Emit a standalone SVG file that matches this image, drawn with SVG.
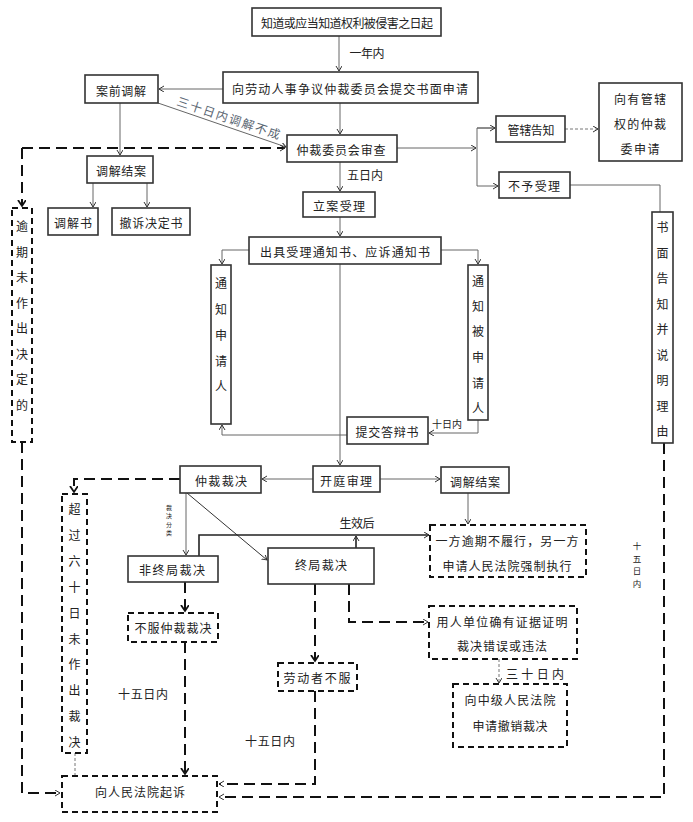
<svg xmlns="http://www.w3.org/2000/svg" width="693" height="822" viewBox="0 0 693 822">
<defs>
<style>
text{font-family:"Noto Sans CJK SC","Noto Sans",sans-serif;font-size:12px;fill:#222;dominant-baseline:central;text-anchor:middle}
.box{fill:#fff;stroke:#333;stroke-width:1.6}
.dbox{fill:#fff;stroke:#111;stroke-width:2;stroke-dasharray:6,4}
.ln{fill:none;stroke:#666;stroke-width:1}
.lnd{fill:none;stroke:#222;stroke-width:1.6}
.thin-d{fill:none;stroke:#777;stroke-width:1;stroke-dasharray:3,2}
.dash{fill:none;stroke:#111;stroke-width:2;stroke-dasharray:11,6}
.sm{font-size:10px}
.vs{font-size:8.5px}
.xs{font-size:6px}
</style>
<marker id="a" markerWidth="8" markerHeight="8" refX="5" refY="3" orient="auto" markerUnits="userSpaceOnUse"><path d="M0,0 L5,3 L0,6" fill="none" stroke="#333" stroke-width="1"/></marker>
<marker id="b" markerWidth="10" markerHeight="10" refX="6" refY="4" orient="auto" markerUnits="userSpaceOnUse"><path d="M0,0 L6,4 L0,8" fill="none" stroke="#111" stroke-width="1.8"/></marker>
</defs>
<g id="connectors">
<path class="ln" d="M339,36 V71" marker-end="url(#a)"/>
<path class="ln" d="M223,89 H159" marker-end="url(#a)"/>
<path class="ln" d="M340,103 V134" marker-end="url(#a)"/>
<path class="ln" d="M120,103 V155" marker-end="url(#a)"/>
<path class="ln" d="M93,183 V207" marker-end="url(#a)"/>
<path class="ln" d="M147,183 V207" marker-end="url(#a)"/>
<path class="ln" d="M158,103 L286,147" marker-end="url(#a)"/>
<path class="ln" d="M397,148 H476" marker-end="url(#a)"/>
<path class="ln" d="M495,128 H477 V186 H498" marker-end="url(#a)"/>
<path class="ln" d="M477,128 H495" marker-end="url(#a)"/>
<path class="thin-d" d="M565,129 H598" marker-end="url(#a)"/>
<path class="ln" d="M570,185 H660 V212"/>
<path class="ln" d="M340,162 V191" marker-end="url(#a)"/>
<path class="ln" d="M340,217 V236" marker-end="url(#a)"/>
<path class="ln" d="M249,250 H222 V264" marker-end="url(#a)"/>
<path class="ln" d="M441,250 H478 V264" marker-end="url(#a)"/>
<path class="ln" d="M478,420 V433 H429" marker-end="url(#a)"/>
<path class="ln" d="M347,435 H222 V425" marker-end="url(#a)"/>
<path class="ln" d="M340,264 V465" marker-end="url(#a)"/>
<path class="ln" d="M313,479 H262" marker-end="url(#a)"/>
<path class="ln" d="M380,479 H440" marker-end="url(#a)"/>
<path class="ln" d="M468,493 V524" marker-end="url(#a)"/>
<path class="ln" d="M186,493 V555" marker-end="url(#a)"/>
<path class="ln" style="stroke:#333" d="M187,493 L267,560" marker-end="url(#a)"/>
<path class="lnd" d="M199,556 V535 H429" marker-end="url(#a)"/>
<path class="lnd" d="M356,548 V536" marker-end="url(#a)"/>
<path class="thin-d" d="M499,659 V683" marker-end="url(#a)"/>
<path class="thin-d" d="M75,753 V776"/>
<path class="dash" d="M22,148 H285" marker-end="url(#a)"/>
<path class="dash" d="M22,148 V206" marker-end="url(#b)"/>
<path class="dash" d="M22,442 V793 H60" marker-end="url(#a)"/>
<path class="dash" d="M180,479 H74 V492" marker-end="url(#b)"/>
<path class="dash" d="M185,582 V611" marker-end="url(#b)"/>
<path class="dash" d="M185,642 V774" marker-end="url(#b)"/>
<path class="dash" d="M315,584 V661" marker-end="url(#b)"/>
<path class="dash" d="M349,584 V622 H428" marker-end="url(#a)"/>
<path class="dash" d="M315,691 V784 H219" marker-end="url(#a)"/>
<path class="dash" d="M664,443 V797 H219" marker-end="url(#a)"/>
</g>
<g id="labels">
<text x="367" y="52" textLength="35" lengthAdjust="spacing">一年内</text>
<text transform="translate(229,117) rotate(18.5)" textLength="108" lengthAdjust="spacing" style="fill:#5a6672">三十日内调解不成</text>
<text x="365" y="174" textLength="36" lengthAdjust="spacing">五日内</text>
<text class="sm" x="447" y="423" textLength="30" lengthAdjust="spacing">十日内</text>
<text x="357" y="522" textLength="35" lengthAdjust="spacing">生效后</text>
<text x="535" y="673" textLength="58" lengthAdjust="spacing">三十日内</text>
<text x="143" y="693" textLength="50" lengthAdjust="spacing">十五日内</text>
<text x="270" y="740" textLength="50" lengthAdjust="spacing">十五日内</text>
<text class="vs"><tspan x="637" y="545">十</tspan><tspan x="637" y="557.5">五</tspan><tspan x="637" y="570">日</tspan><tspan x="637" y="582.5">内</tspan></text>
<text class="xs"><tspan x="169" y="507">裁</tspan><tspan x="169" y="515">决</tspan><tspan x="169" y="523.5">分</tspan><tspan x="169" y="532">类</tspan></text>
</g>
<g id="n1"><rect class="box" x="252" y="8" width="189" height="28"/><text x="347" y="22" textLength="172" lengthAdjust="spacing">知道或应当知道权利被侵害之日起</text></g>
<g id="n2"><rect class="box" x="223" y="72" width="255" height="31"/><text x="350" y="88" textLength="236" lengthAdjust="spacing">向劳动人事争议仲裁委员会提交书面申请</text></g>
<g id="n3"><rect class="box" x="85" y="75" width="73" height="28"/><text x="121" y="90" textLength="50" lengthAdjust="spacing">案前调解</text></g>
<g id="n4"><rect class="box" x="87" y="156" width="66" height="27"/><text x="121" y="170" textLength="50" lengthAdjust="spacing">调解结案</text></g>
<g id="n5"><rect class="box" x="48" y="208" width="50" height="27"/><text x="73" y="222" textLength="38" lengthAdjust="spacing">调解书</text></g>
<g id="n6"><rect class="box" x="112" y="208" width="78" height="27"/><text x="151" y="222" textLength="63" lengthAdjust="spacing">撤诉决定书</text></g>
<g id="n7"><rect class="box" x="287" y="135" width="110" height="27"/><text x="341" y="149" textLength="89" lengthAdjust="spacing">仲裁委员会审查</text></g>
<g id="n8"><rect class="box" x="496" y="116" width="69" height="26"/><text x="531" y="129" textLength="47" lengthAdjust="spacing">管辖告知</text></g>
<g id="n9"><rect class="box" x="499" y="172" width="71" height="26"/><text x="534" y="185" textLength="52" lengthAdjust="spacing">不予受理</text></g>
<g id="n10"><rect class="box" x="599" y="83" width="83" height="78"/><text x="640" y="98" textLength="52" lengthAdjust="spacing">向有管辖</text><text x="640" y="123" textLength="52" lengthAdjust="spacing">权的仲裁</text><text x="640" y="148" textLength="39" lengthAdjust="spacing">委申请</text></g>
<g id="n11"><rect class="box" x="303" y="192" width="72" height="25"/><text x="339" y="205" textLength="52" lengthAdjust="spacing">立案受理</text></g>
<g id="n12"><rect class="box" x="249" y="237" width="192" height="27"/><text x="345" y="251" textLength="170" lengthAdjust="spacing">出具受理通知书、应诉通知书</text></g>
<g id="n13"><rect class="box" x="211" y="265" width="20" height="159"/><text><tspan x="221" y="282">通</tspan><tspan x="221" y="308">知</tspan><tspan x="221" y="334">申</tspan><tspan x="221" y="360">请</tspan><tspan x="221" y="385">人</tspan></text></g>
<g id="n14"><rect class="box" x="468" y="265" width="20" height="155"/><text><tspan x="478" y="280">通</tspan><tspan x="478" y="305">知</tspan><tspan x="478" y="330">被</tspan><tspan x="478" y="356">申</tspan><tspan x="478" y="382">请</tspan><tspan x="478" y="407">人</tspan></text></g>
<g id="n15"><rect class="box" x="652" y="212" width="21" height="231"/><text><tspan x="662.5" y="226">书</tspan><tspan x="662.5" y="251.5">面</tspan><tspan x="662.5" y="277">告</tspan><tspan x="662.5" y="302.5">知</tspan><tspan x="662.5" y="328">并</tspan><tspan x="662.5" y="353.5">说</tspan><tspan x="662.5" y="379">明</tspan><tspan x="662.5" y="404.5">理</tspan><tspan x="662.5" y="430">由</tspan></text></g>
<g id="n16"><rect class="dbox" x="12" y="208" width="20" height="234"/><text><tspan x="22" y="225">逾</tspan><tspan x="22" y="251">期</tspan><tspan x="22" y="276">未</tspan><tspan x="22" y="302">作</tspan><tspan x="22" y="327">出</tspan><tspan x="22" y="353">决</tspan><tspan x="22" y="378">定</tspan><tspan x="22" y="404">的</tspan></text></g>
<g id="n17"><rect class="box" x="347" y="417" width="81" height="27"/><text x="387" y="431" textLength="63" lengthAdjust="spacing">提交答辩书</text></g>
<g id="n18"><rect class="box" x="313" y="466" width="67" height="26"/><text x="346" y="480" textLength="52" lengthAdjust="spacing">开庭审理</text></g>
<g id="n19"><rect class="box" x="180" y="466" width="81" height="27"/><text x="221" y="480" textLength="52" lengthAdjust="spacing">仲裁裁决</text></g>
<g id="n20"><rect class="box" x="441" y="467" width="68" height="26"/><text x="475" y="481" textLength="50" lengthAdjust="spacing">调解结案</text></g>
<g id="n21"><rect class="dbox" x="430" y="525" width="156" height="52"/><text x="507" y="540" textLength="143" lengthAdjust="spacing">一方逾期不履行，另一方</text><text x="507" y="565" textLength="129" lengthAdjust="spacing">申请人民法院强制执行</text></g>
<g id="n22"><rect class="dbox" x="62" y="494" width="25" height="259"/><text><tspan x="74.5" y="508">超</tspan><tspan x="74.5" y="534">过</tspan><tspan x="74.5" y="560">六</tspan><tspan x="74.5" y="586">十</tspan><tspan x="74.5" y="612">日</tspan><tspan x="74.5" y="638">未</tspan><tspan x="74.5" y="663">作</tspan><tspan x="74.5" y="689">出</tspan><tspan x="74.5" y="715">裁</tspan><tspan x="74.5" y="741">决</tspan></text></g>
<g id="n23"><rect class="box" x="128" y="556" width="90" height="26"/><text x="172" y="569" textLength="66" lengthAdjust="spacing">非终局裁决</text></g>
<g id="n24"><rect class="box" x="268" y="548" width="106" height="36"/><text x="321" y="564" textLength="52" lengthAdjust="spacing">终局裁决</text></g>
<g id="n25"><rect class="dbox" x="128" y="613" width="90" height="29"/><text x="173" y="627" textLength="77" lengthAdjust="spacing">不服仲裁裁决</text></g>
<g id="n26"><rect class="dbox" x="429" y="606" width="148" height="53"/><text x="502" y="621" textLength="131" lengthAdjust="spacing">用人单位确有证据证明</text><text x="502" y="645" textLength="90" lengthAdjust="spacing">裁决错误或违法</text></g>
<g id="n27"><rect class="dbox" x="278" y="663" width="79" height="28"/><text x="317" y="677" textLength="67" lengthAdjust="spacing">劳动者不服</text></g>
<g id="n28"><rect class="dbox" x="453" y="684" width="114" height="63"/><text x="510" y="699" textLength="91" lengthAdjust="spacing">向中级人民法院</text><text x="510" y="725" textLength="75" lengthAdjust="spacing">申请撤销裁决</text></g>
<g id="n29"><rect class="dbox" x="62" y="776" width="155" height="36"/><text x="140" y="791" textLength="90" lengthAdjust="spacing">向人民法院起诉</text></g>
</svg>
